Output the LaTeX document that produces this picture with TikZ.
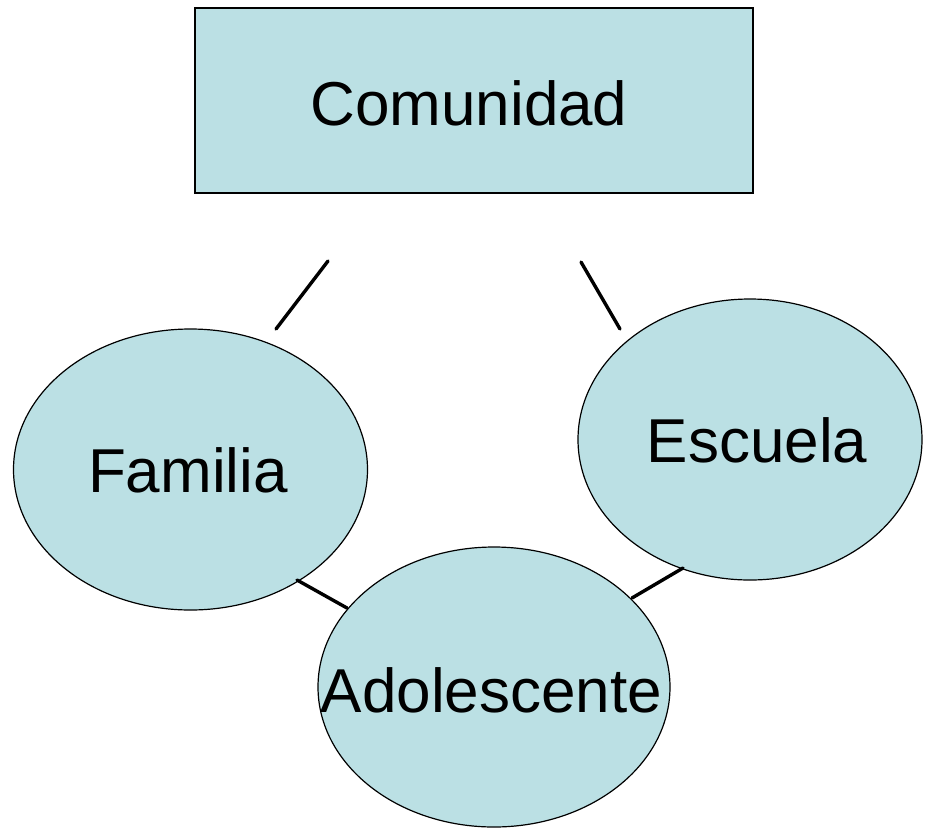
\documentclass[tikz,border=0pt]{standalone}
\usepackage{fontspec}
\setmainfont{Liberation Sans}
\usetikzlibrary{shapes.geometric}
\definecolor{boxfill}{RGB}{187,224,228}
\begin{document}
\begin{tikzpicture}[x=1pt,y=-1pt,
  boxnode/.style={rectangle,draw=black,line width=1.5pt,fill=boxfill,inner sep=0pt,minimum width=558pt,minimum height=185pt},
  ovalnode/.style={ellipse,draw=black,line width=1.2pt,fill=boxfill,inner sep=0pt},
  label/.style={anchor=base,inner sep=0pt,font=\fontsize{62}{70}\selectfont},
  link/.style={line width=3.4pt,line cap=round}]
\useasboundingbox (0,0) rectangle (926,828);
\node[boxnode] (com) at (474,100.5) {};
\node[ovalnode,minimum width=354pt,minimum height=281pt] (fam) at (190.5,469.5) {};
\node[ovalnode,minimum width=344pt,minimum height=281pt] (esc) at (750,439.5) {};
\node[ovalnode,minimum width=352pt,minimum height=280pt] (ado) at (494,687) {};
\node[label] (comtext) at (469,125) {Comunidad};
\node[label] (famtext) at (188,492) {Familia};
\node[label] (esctext) at (757,462) {Escuela};
\node[label] (adotext) at (491.5,712) {Adolescente};
\coordinate (l1a) at (328,261);
\coordinate (l1b) at (276,329);
\coordinate (l2a) at (581,262);
\coordinate (l2b) at (620,329);
\coordinate (l3a) at (297,580);
\coordinate (l3b) at (347,608);
\coordinate (l4a) at (632,598);
\coordinate (l4b) at (683,568);
\draw[link] (l1a) -- (l1b);
\draw[link] (l2a) -- (l2b);
\draw[link] (l3a) -- (l3b);
\draw[link] (l4a) -- (l4b);
\end{tikzpicture}
\end{document}
